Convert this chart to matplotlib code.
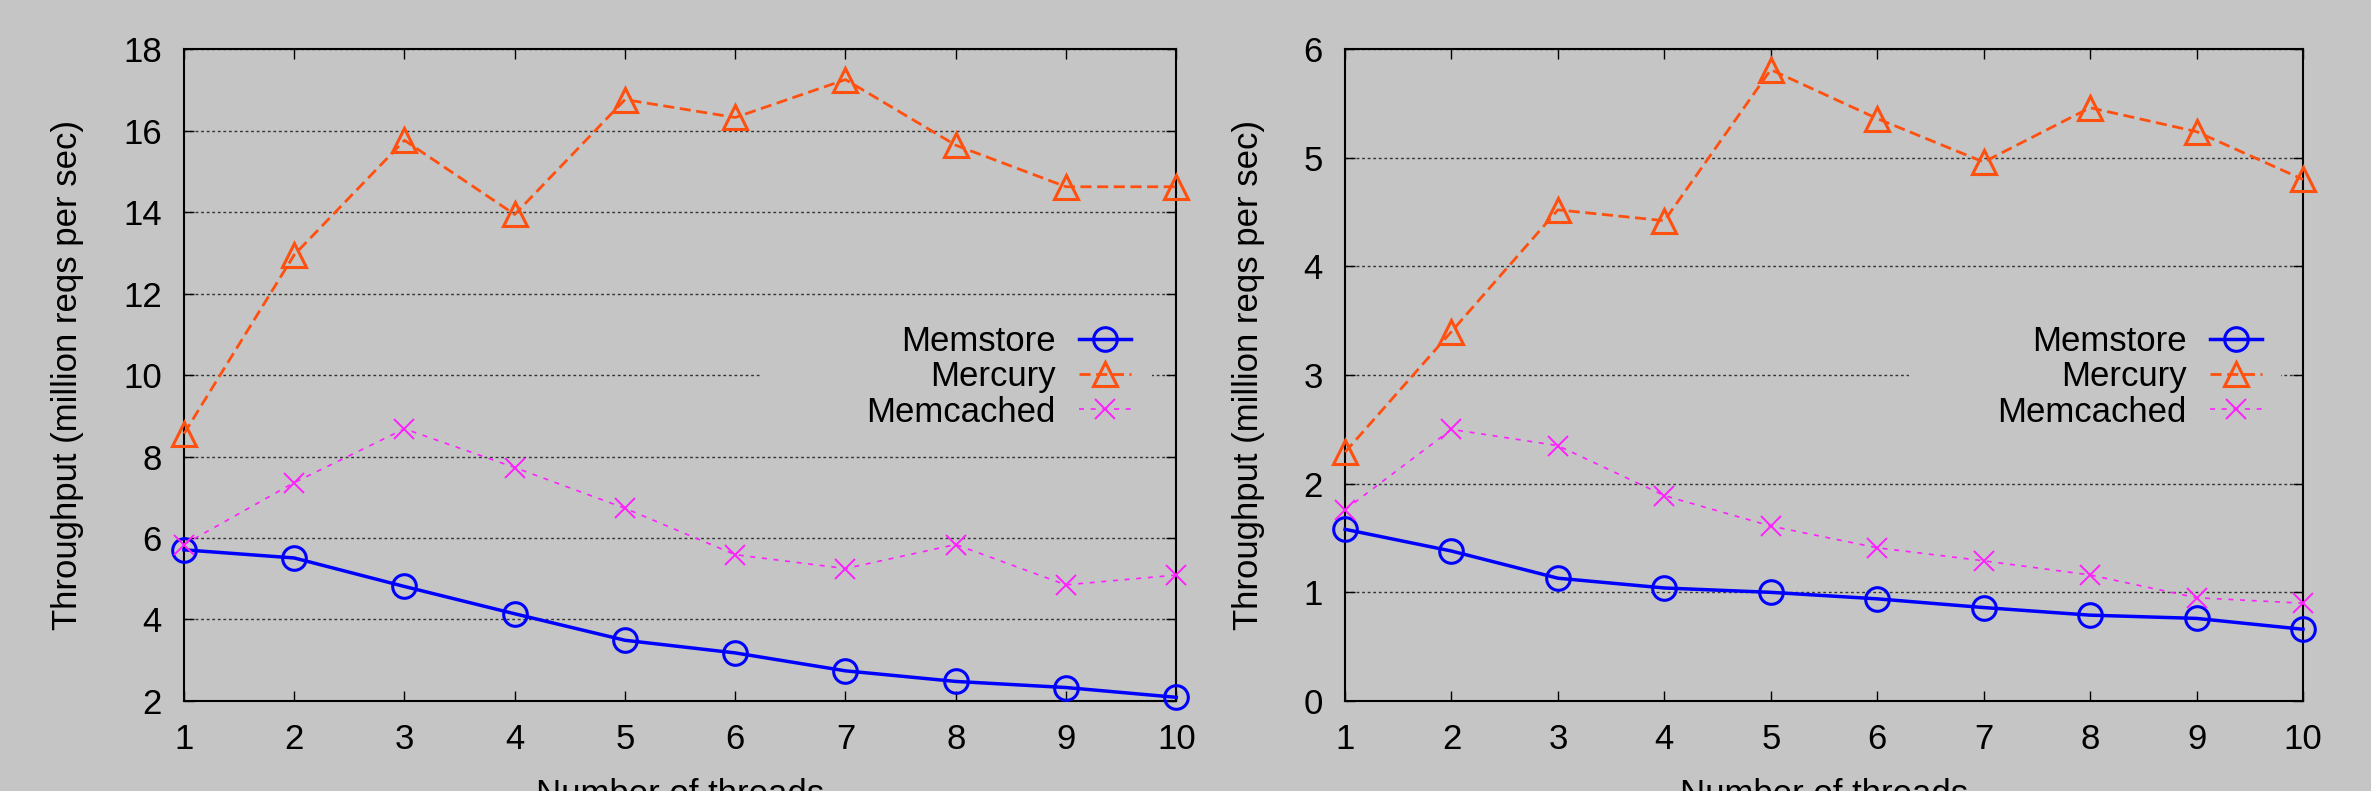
import matplotlib
matplotlib.use('Agg')
import matplotlib.pyplot as plt
from matplotlib.patches import Rectangle

threads = [1, 2, 3, 4, 5, 6, 7, 8, 9, 10]

# left panel
left_memstore = [5.71, 5.51, 4.81, 4.14, 3.49, 3.18, 2.74, 2.48, 2.33, 2.09]
left_mercury = [8.56, 12.95, 15.76, 13.94, 16.76, 16.32, 17.25, 15.64, 14.62, 14.62]
left_memcached = [5.84, 7.36, 8.68, 7.73, 6.73, 5.59, 5.25, 5.84, 4.85, 5.09]

# right panel
right_memstore = [1.58, 1.38, 1.13, 1.04, 1.00, 0.94, 0.86, 0.79, 0.76, 0.66]
right_mercury = [2.29, 3.40, 4.52, 4.42, 5.81, 5.36, 4.96, 5.46, 5.24, 4.80]
right_memcached = [1.76, 2.50, 2.35, 1.89, 1.61, 1.41, 1.29, 1.16, 0.95, 0.90]

left_yticks = [2, 4, 6, 8, 10, 12, 14, 16, 18]
right_yticks = [0, 1, 2, 3, 4, 5, 6]

bg = '#c4c5c4'
plt.rcParams['font.family'] = ['Liberation Sans', 'DejaVu Sans']
plt.rcParams['font.size'] = 25

fig = plt.figure(figsize=(23.71, 7.91), dpi=100, facecolor=bg)
ax1 = fig.add_axes([0.0776, 0.1138, 0.4185, 0.8242])
ax2 = fig.add_axes([0.5673, 0.1138, 0.4040, 0.8242])


def draw_panel(ax, memstore, mercury, memcached, yticks, leg_x, box_x0, box_x1):
    ax.set_facecolor(bg)
    ax.set_axisbelow(True)
    ax.plot(threads, memstore, color='#0000ff', lw=2.5, marker='o', ms=17,
            mfc='none', mec='#0000ff', mew=2.2, label='Memstore', zorder=3, clip_on=False)
    ax.plot(threads, mercury, color='#ff5010', lw=2, ls=(0, (4, 2)), marker='^', ms=17,
            mfc='none', mec='#ff5010', mew=2.2, label='Mercury', zorder=3, clip_on=False)
    ax.plot(threads, memcached, color='#ff20ff', lw=1.2, ls=(0, (3, 4)), marker='x', ms=15,
            mec='#ff20ff', mew=1.4, label='Memcached', zorder=3, clip_on=False)

    ax.set_xlim(1, 10)
    ax.set_ylim(yticks[0], yticks[-1])
    ax.set_xticks(threads)
    ax.set_yticks(yticks)
    ax.tick_params(direction='in', length=7, width=1, top=True, right=True, pad=16)
    ax.yaxis.grid(True, linestyle=(0, (2, 2)), color='#333333', lw=1)
    for s in ax.spines.values():
        s.set_linewidth(1.5)

    ax.set_xlabel('Number of threads', labelpad=16)
    ax.set_ylabel('Throughput (million reqs per sec)', labelpad=28)

    # opaque key box hiding the grid behind the legend
    ax.add_patch(Rectangle((box_x0, 0.385), box_x1 - box_x0, 0.23, transform=ax.transAxes,
                           facecolor=bg, edgecolor='none', zorder=1))
    ax.legend(loc='center right', bbox_to_anchor=(leg_x, 0.497), frameon=False,
              markerfirst=False, handlelength=1.5, handletextpad=0.66,
              labelspacing=0.06, borderpad=0, borderaxespad=0, fontsize=25)


draw_panel(ax1, left_memstore, left_mercury, left_memcached, left_yticks, 0.954, 0.5825, 0.9755)
draw_panel(ax2, right_memstore, right_mercury, right_memcached, right_yticks, 0.957, 0.5887, 0.977)

fig.savefig('out.png', dpi=100, facecolor=bg)
